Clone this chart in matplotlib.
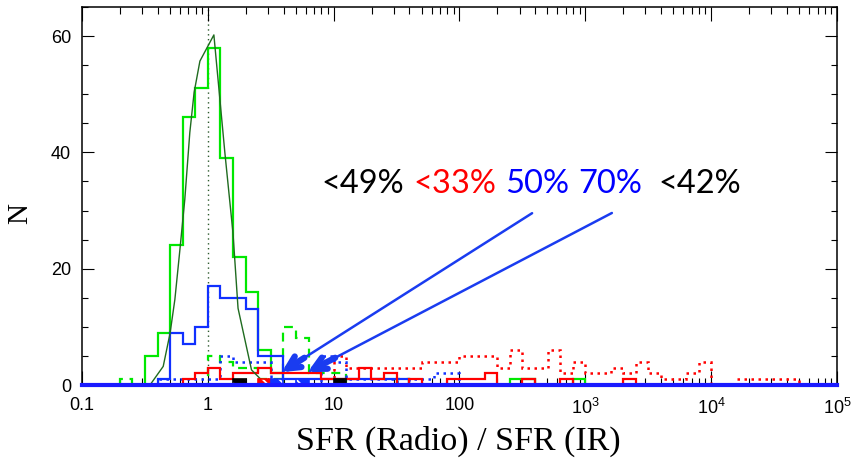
import matplotlib.pyplot as plt
import numpy as np

plt.rcParams['font.family'] = 'Liberation Sans'
plt.rcParams['mathtext.fontset'] = 'custom'
plt.rcParams['mathtext.rm'] = 'Liberation Sans'
plt.rcParams['hatch.linewidth'] = 1.3

# histogram bins: 0.1 dex from 0.1 to 1e5
log_edges = np.round(np.arange(-1.0, 5.001, 0.1), 2)
edges = 10 ** log_edges

# each histogram: log10 of first bin edge + counts per 0.1 dex bin
green_start = -0.5
green_counts = [5, 9, 24, 46, 51, 58, 39, 22, 16, 6, 2]
green_tail_start = 2.4
green_tail_counts = [1, 1, 0, 0, 0, 1]

green_dash_start = -0.7
green_dash_counts = [1, 0, 0, 0, 0, 0, 0, 5, 4, 3, 3, 1, 1, 10, 8, 2, 2, 2, 0, 0, 0, 0, 1]

blue_start = -0.4
blue_counts = [1, 9, 7, 10, 17, 15, 15, 13, 5, 5, 1, 1, 1, 1, 1, 1, 1, 1, 1, 1]

blue_dot_start = -0.4
blue_dot_counts = [1, 1, 1, 1, 1, 5, 4, 4, 4, 0, 0, 0, 0, 5, 4, 1, 1, 1, 1, 0, 1, 1, 2, 2]

red_start = -0.2
red_counts = [1, 2, 3, 1, 2, 2, 3, 2, 2, 2, 2, 1, 1, 1, 3, 1, 2, 0, 1, 0, 0, 1, 1, 1, 2,
              0, 0, 1, 0, 0, 1, 0, 0, 0, 0, 1]

red_dot_start = 1.0
red_dot_counts = [5, 3, 3, 3, 3, 3, 3, 4, 4, 4, 5, 5, 5, 3, 6, 3, 3, 6, 2, 4, 2, 2, 3, 2,
                  4, 2, 1, 1, 2, 4, 0, 0, 1, 1, 1, 1, 1]

# shaded boxes (height 1) at these bins
black_hatch_bins = [0.2, 1.0]
red_hatch_bins = [0.4]
blue_hatch_bins = [0.5, 0.7]

# fitted curve
fit_x = [0.347, 0.442, 0.501, 0.547, 0.600, 0.656, 0.719, 0.778, 0.865, 1.117,
         1.365, 1.585, 1.738, 2.223, 2.924]
fit_n = [0, 3.2, 8.9, 14.7, 23.3, 31.9, 43.4, 50.3, 55.7, 60.2, 40, 26.1, 13.2, 2.6, 0]

GREEN = '#00e800'
BLUE = '#1030ff'
RED = '#ff0000'


def bin_index(start):
    return int(round((start + 1.0) / 0.1))


def draw_hist(ax, start, counts, **kw):
    i0 = bin_index(start)
    ax.stairs(counts, edges[i0:i0 + len(counts) + 1], baseline=0, **kw)


def draw_boxes(ax, bins, face):
    for b in bins:
        i = bin_index(b)
        w = edges[i + 1] - edges[i]
        ax.bar(edges[i], 1, width=w, align='edge', facecolor=face,
               edgecolor='white', hatch='\\\\', lw=0, zorder=4)
        ax.bar(edges[i], 1, width=w, align='edge', fill=False,
               edgecolor=face, lw=1.2, zorder=4)


fig = plt.figure(figsize=(8.52, 4.59), dpi=100)
ax = fig.add_axes([82 / 852, 1 - 385 / 459, 755 / 852, 378 / 459])
ax.set_xscale('log')
ax.set_xlim(0.1, 1e5)
ax.set_ylim(0, 65)

ax.axvline(1, color='#2d5a2d', lw=1, ls=(0, (1, 2.5)), zorder=1)

draw_hist(ax, green_start, green_counts, color=GREEN, lw=1.6, zorder=3)
draw_hist(ax, green_tail_start, green_tail_counts, color=GREEN, lw=1.6, zorder=3)
draw_hist(ax, green_dash_start, green_dash_counts, color=GREEN, lw=1.6, ls=(0, (4, 3)), zorder=2)
draw_hist(ax, blue_dot_start, blue_dot_counts, color=BLUE, lw=1.8, ls=(0, (1, 1.8)), zorder=3)
draw_hist(ax, red_dot_start, red_dot_counts, color=RED, lw=1.8, ls=(0, (1, 1.8)), zorder=3)
draw_hist(ax, blue_start, blue_counts, color=BLUE, lw=1.6, zorder=3)
draw_hist(ax, red_start, red_counts, color=RED, lw=1.6, zorder=3)

draw_boxes(ax, black_hatch_bins, 'black')
draw_boxes(ax, red_hatch_bins, RED)
draw_boxes(ax, blue_hatch_bins, BLUE)

ax.plot(fit_x, fit_n, color='#1f6b1f', lw=1, zorder=3)

# blue baseline
ax.axhline(0, color='#1a1aff', lw=3, zorder=5, clip_on=False)

# arrows
arrow_tails = [(394, 29.8), (1700, 29.8)]
arrow_heads = [(3.86, 2.2), (6.2, 2.2)]
for (tx, ty), (hx, hy) in zip(arrow_tails, arrow_heads):
    ax.annotate('', xy=(hx, hy), xytext=(tx, ty),
                arrowprops=dict(arrowstyle='-', color='#1a3cf0', lw=1.8), zorder=6)
    f = 0.09
    mx = 10 ** (np.log10(hx) + f * (np.log10(tx) - np.log10(hx)))
    my = hy + f * (ty - hy)
    ax.annotate('', xy=(hx, hy), xytext=(mx, my),
                arrowprops=dict(arrowstyle='->,head_length=0.9,head_width=0.45',
                                color='#1a3cf0', lw=4.5, shrinkA=0, shrinkB=0), zorder=6)

# ticks
ax.set_xticks([0.1, 1, 10, 100, 1e3, 1e4, 1e5])
ax.set_xticklabels(['0.1', '1', '10', '100', r'10$^3$', r'10$^4$', r'10$^5$'])
ax.set_yticks([0, 20, 40, 60])
ax.set_yticks(np.arange(0, 66, 5), minor=True)
ax.tick_params(which='both', direction='in', top=True, right=True, width=0.8,
               labelsize=13, color='black')
ax.tick_params(axis='x', which='major', length=10, pad=9)
ax.tick_params(axis='x', which='minor', length=5)
ax.tick_params(axis='y', which='major', length=8.6, pad=8)
ax.tick_params(axis='y', which='minor', length=4.3)
for s in ax.spines.values():
    s.set_linewidth(1.1)

fig.text(458 / 852, 1 - 450 / 459, 'SFR (Radio) / SFR (IR)', family='Liberation Serif',
         fontsize=24.5, ha='center', va='baseline')
fig.text(20 / 852, 1 - 213 / 459, 'N', family='Liberation Serif', fontsize=21,
         rotation=90, ha='center', va='center')

# percentages
pct_text = ['<49%', '<33%', '50%', '70%', '<42%']
pct_color = ['black', RED, '#0000ff', '#0000ff', 'black']
pct_x = [321, 413, 505, 578, 658]
for t, c, x in zip(pct_text, pct_color, pct_x):
    fig.text(x / 852, 1 - 184 / 459, t, color=c, fontsize=23.5, family='Lato',
             ha='left', va='center')

fig.savefig('out.png', dpi=100, facecolor='white')
